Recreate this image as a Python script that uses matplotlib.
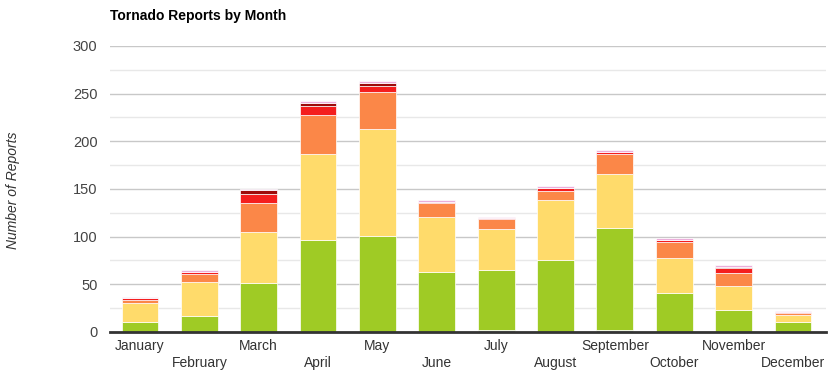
import matplotlib.pyplot as plt
import numpy as np

plt.rcParams["font.family"] = ["Liberation Sans", "DejaVu Sans"]

months = ["January", "February", "March", "April", "May", "June",
          "July", "August", "September", "October", "November", "December"]

# stacked from bottom to top
efu = [0, 0, 0, 0, 0, 0, 2, 0, 2, 0, 0, 0]
ef0 = [10, 17, 51, 96, 101, 63, 63, 75, 107, 41, 23, 10]
ef1 = [20, 35, 54, 91, 112, 58, 43, 63, 57, 37, 25, 8]
ef2 = [4, 9, 30, 41, 39, 14, 10, 10, 21, 16, 14, 1.5]
ef3 = [1.5, 1.5, 10, 9, 6, 1.5, 1.5, 3, 2, 3, 5, 1.5]
ef4 = [0, 0, 4, 3, 3, 0, 0, 0, 0, 0, 1.5, 0]
ef5 = [1.5, 2, 1.5, 2, 2, 1.5, 1.5, 2, 2, 1.5, 1.5, 1.5]

series = [efu, ef0, ef1, ef2, ef3, ef4, ef5]
colors = ["#c4c4c4", "#9fcb25", "#ffdb6b", "#fb8748", "#f41e1e", "#9e0b0b", "#ebaedb"]

fig = plt.figure(figsize=(8.36, 3.83), dpi=100)
ax = fig.add_axes([0.1316, 0.1332, 0.988 - 0.1316, 0.8799 - 0.1332])

x = np.arange(len(months))
bottom = np.zeros(len(months))
for vals, col in zip(series, colors):
    vals = np.array(vals, dtype=float)
    ax.bar(x, vals, width=0.62, bottom=bottom, color=col, edgecolor="white",
           linewidth=0.5, zorder=3)
    bottom += vals

ax.set_xlim(-0.505, 11.556)
ax.set_ylim(0, 300)
ax.set_yticks(range(0, 301, 50))
ax.set_yticks(range(25, 300, 50), minor=True)
ax.grid(axis="y", which="major", color="#c8c8c8", linewidth=1, zorder=0)
ax.grid(axis="y", which="minor", color="#e8e8e8", linewidth=1, zorder=0)
ax.tick_params(axis="y", which="both", length=0, labelsize=10.5, labelcolor="#444444", pad=9)

ax.set_xticks(x)
ax.set_xticklabels([m if i % 2 == 0 else "\n" + m for i, m in enumerate(months)],
                   fontsize=10, color="#333333", linespacing=1.25)
ax.tick_params(axis="x", length=0, pad=5)

for side in ["left", "right", "top"]:
    ax.spines[side].set_visible(False)
ax.spines["bottom"].set_color("#333333")
ax.spines["bottom"].set_linewidth(2)
ax.spines["bottom"].set_zorder(4)

fig.text(110 / 836, 1 - 16 / 383, "Tornado Reports by Month", fontsize=10,
         weight="bold", ha="left", va="center", color="black")
fig.text(13 / 836, 1 - 190 / 383, "Number of Reports", fontsize=10, style="italic",
         rotation=90, ha="center", va="center", color="#333333")

fig.savefig("out.png", dpi=100, facecolor="white")
